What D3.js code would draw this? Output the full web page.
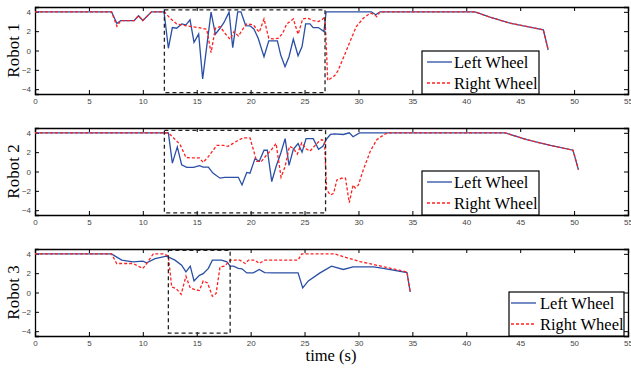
<!DOCTYPE html>
<html>
<head>
<meta charset="utf-8">
<script src="https://cdn.jsdelivr.net/npm/d3@7"></script>
<style>
body { margin: 0; background: #fff; }
svg { display: block; }
</style>
</head>
<body>
<div id="chart"></div>
<script>
// data: [time (s), wheel speed]
var timeTicks = [0, 5, 10, 15, 20, 25, 30, 35, 40, 45, 50, 55];
var speedTicks = [-4, -2, 0, 2, 4];
var robotNames = ['Robot 1', 'Robot 2', 'Robot 3'];
var seriesNames = ['Left Wheel', 'Right Wheel'];

var r1Left = [[0,4],[7.1,4],[7.6,2.8],[7.95,3.1],[9.2,3.1],[9.6,3.6],[10,3.1],[10.8,4],[11.97,4],[12.37,0.23],[12.74,2.37],[13.14,2.3],[13.6,2.75],[14.0,2.65],[14.38,3.17],[14.75,0.85],[15.18,1.71],[15.55,-2.93],[16.33,3.97],[16.73,1.68],[17.16,2.3],[17.53,2.9],[18.0,3.97],[18.34,0.3],[18.8,4],[19.1,4],[19.54,2.58],[19.94,2.55],[20.3,2.23],[20.7,1.27],[21.24,-0.64],[21.68,0.99],[22.48,0.99],[22.79,-0.47],[23.19,-1.68],[23.56,-0.64],[23.96,1.19],[24.4,-0.54],[24.77,0.4],[25.1,2.75],[25.5,2.75],[25.8,2.37],[26.28,2.37],[26.8,1.95],[27.0,4],[31.2,4],[31.6,3.7],[32.0,4],[40.8,4],[42.2,3.45],[44.06,2.82],[45.3,2.55],[47.15,2.13],[47.6,0.05]];
var r1Right = [[0,4],[7.1,4],[7.6,2.5],[7.95,3.1],[9.2,3.1],[9.6,3.6],[10,3.1],[10.8,4],[12.0,4],[12.52,3.34],[13.14,2.75],[14.07,2.55],[15.0,2.4],[15.93,2.2],[16.33,-0.23],[16.73,2.3],[17.16,2.47],[17.62,1.78],[18.09,1.16],[18.46,1.95],[18.86,1.5],[19.33,2.3],[19.64,2.75],[20.25,2.65],[20.8,1.89],[21.24,3.27],[21.68,1.27],[22.1,1.2],[22.57,1.27],[22.97,1.78],[23.35,2.75],[23.96,3.27],[24.4,1.68],[24.83,3.27],[25.3,3.34],[25.8,3.1],[26.3,3.0],[26.6,3.17],[26.9,3.5],[27.15,-3.1],[27.8,-2.6],[28.1,-2.1],[28.9,0.05],[29.4,1.43],[29.8,2.47],[30.45,3.34],[31.1,3.86],[31.5,3.7],[31.7,3.5],[32.0,4],[40.8,4],[42.2,3.45],[44.06,2.82],[45.3,2.55],[47.15,2.13],[47.6,0.05]];

var r2Left = [[0,4],[12.37,4],[12.74,0.87],[13.2,2.55],[13.6,0.7],[14.07,0.42],[14.7,0.42],[15.25,0.6],[15.6,0.45],[16.08,0.45],[16.5,-0.17],[17.16,-0.69],[17.6,-0.6],[18.86,-0.6],[19.2,-1.39],[19.64,-0.1],[19.94,-0.17],[20.4,1.33],[20.8,1.05],[21.24,2.2],[21.55,2.2],[21.96,-1.04],[22.36,0.52],[22.8,1.92],[23.2,3.4],[23.56,0.63],[23.96,2.3],[24.4,2.9],[24.77,2.0],[25.14,3.4],[25.8,3.4],[26.3,2.3],[26.7,2.6],[27.0,3.3],[27.4,3.83],[27.8,3.9],[28.6,3.83],[29.15,4],[29.5,3.6],[30.1,4],[43.6,4],[45.6,3.3],[47.8,2.7],[49.9,2.2],[50.4,0.2]];
var r2Right = [[0,4],[12.37,4],[12.83,3.5],[13.45,2.8],[14.0,1.46],[14.5,1.4],[15.25,1.4],[15.6,0.94],[16.1,1.57],[16.85,2.7],[17.5,2.7],[17.9,2.6],[18.7,3.13],[19.3,3.48],[19.94,3.48],[20.56,1.04],[21.0,1.04],[21.5,1.74],[21.96,2.3],[22.36,2.9],[22.82,-0.59],[23.2,0.52],[23.6,2.6],[23.96,2.4],[24.33,1.8],[24.74,2.96],[25.14,2.35],[25.5,2.1],[25.9,2.6],[26.3,3.07],[26.6,3.3],[26.85,3.1],[27.05,-1.9],[27.4,-2.43],[27.7,-2.25],[28.0,-0.87],[28.45,-0.7],[28.8,-0.7],[29.15,-3.23],[29.5,-1.39],[29.7,-1.7],[30.0,-1.39],[30.45,0.18],[31.1,2.1],[31.7,3.3],[32.5,3.9],[32.8,4],[43.6,4],[45.6,3.3],[47.8,2.7],[49.9,2.2],[50.4,0.2]];

var r3Left = [[0,4],[7.1,4],[8.04,3.35],[9.1,3.17],[10.0,3.24],[10.36,3.07],[11.13,3.5],[12.2,3.76],[12.98,3.35],[13.6,2.83],[14.0,2.13],[14.4,2.72],[14.75,1.2],[15.25,1.78],[15.6,1.95],[16.08,2.5],[16.45,3.35],[17.3,3.35],[17.8,3.17],[18.1,2.72],[18.4,2.72],[18.86,2.5],[19.2,2.45],[19.64,2.03],[20.25,2.03],[20.8,2.38],[21.3,2.06],[22.1,2.03],[24.4,2.03],[24.83,0.47],[25.35,1.2],[26.4,2.0],[27.5,2.72],[28.6,2.38],[29.5,2.65],[31.4,2.65],[32.3,2.5],[34.5,2.07],[34.8,0.05]];
var r3Right = [[0,4],[7.1,4],[7.57,3.0],[9.1,3.0],[10.0,2.48],[10.36,3.0],[10.97,4],[11.9,4],[12.37,3.76],[12.68,0.57],[13.1,0.4],[13.55,-0.19],[14.0,1.68],[14.4,0.47],[14.85,0.3],[15.25,0.2],[15.6,1.2],[16.0,0.99],[16.45,-0.39],[16.8,-0.1],[17.16,2.65],[17.6,2.72],[18.1,3.35],[19.0,3.35],[19.5,3.0],[19.8,3.35],[20.4,3.35],[20.8,3.0],[21.3,3.35],[24.4,3.35],[24.74,4],[27.8,4],[28.6,3.7],[30.15,3.2],[34.5,2.13],[34.8,0.05]];

// dashed boxes around the manoeuvre: [t0, t1, v0, v1]
var r1Box = [12.0, 26.9, -4.36, 4.2];
var r2Box = [12.0, 26.95, -4.28, 4.25];
var r3Box = [12.37, 18.1, -4.2, 4.35];

var width = 631;
var height = 369;

var colors = ['#2a4fa5', '#ff2020'];

var panels = [
    {name: robotNames[0], left: r1Left, right: r1Right, box: r1Box, top: 7, bottom: 94,
        legend: {x: 422, y: 51, w: 117, h: 43, lineX: 427, textX: 454}},
    {name: robotNames[1], left: r2Left, right: r2Right, box: r2Box, top: 128, bottom: 215,
        legend: {x: 422, y: 171, w: 117, h: 44, lineX: 427, textX: 454}},
    {name: robotNames[2], left: r3Left, right: r3Right, box: r3Box, top: 249, bottom: 336,
        legend: {x: 509, y: 292, w: 115, h: 44, lineX: 511, textX: 540}}
];

var svg = d3.select('#chart')
  .append('svg')
    .attr('width', width)
    .attr('height', height);

var x = d3.scaleLinear().domain([0, 55]).range([35, 628]);

panels.forEach(function(p, i) {

    var y = d3.scaleLinear().domain([-4.5, 4.5]).range([p.bottom, p.top]);
    var g = svg.append('g');

    g.append('clipPath').attr('id', 'clip' + i)
      .append('rect')
        .attr('x', x(0)).attr('y', p.top)
        .attr('width', x(55) - x(0)).attr('height', p.bottom - p.top);

    // axes with inward ticks
    var bottomAxis = d3.axisBottom(x).tickValues(timeTicks).tickSize(-4).tickPadding(4).tickFormat(d3.format('d'));
    var topAxis = d3.axisTop(x).tickValues(timeTicks).tickSize(-4).tickFormat('');
    var leftAxis = d3.axisLeft(y).tickValues(speedTicks).tickSize(-4).tickPadding(4).tickFormat(d3.format('d'));
    var rightAxis = d3.axisRight(y).tickValues(speedTicks).tickSize(-4).tickFormat('');

    g.append('g').attr('class', 'ax').attr('transform', 'translate(0,' + p.bottom + ')').call(bottomAxis);
    g.append('g').attr('class', 'ax').attr('transform', 'translate(0,' + p.top + ')').call(topAxis);
    g.append('g').attr('class', 'ax').attr('transform', 'translate(' + x(0) + ',0)').call(leftAxis);
    g.append('g').attr('class', 'ax').attr('transform', 'translate(' + x(55) + ',0)').call(rightAxis);

    g.selectAll('.ax path').attr('stroke', '#000').attr('stroke-width', 1.3);
    g.selectAll('.ax line').attr('stroke', '#000').attr('stroke-width', 1);
    g.selectAll('.ax text')
        .attr('font-family', 'Liberation Sans, Arial, sans-serif')
        .attr('font-size', 8)
        .attr('fill', '#444');

    var plot = g.append('g').attr('clip-path', 'url(#clip' + i + ')');

    var line = d3.line()
        .x(function(d) { return x(d[0]); })
        .y(function(d) { return y(d[1]); });

    plot.append('path')
        .datum(p.left)
        .attr('d', line)
        .attr('fill', 'none')
        .attr('stroke', colors[0])
        .attr('stroke-width', 1.3);

    plot.append('path')
        .datum(p.right)
        .attr('d', line)
        .attr('fill', 'none')
        .attr('stroke', colors[1])
        .attr('stroke-width', 1.3)
        .attr('stroke-dasharray', '3,2');

    // dashed highlight box
    g.append('rect')
        .attr('x', x(p.box[0]))
        .attr('y', y(p.box[3]))
        .attr('width', x(p.box[1]) - x(p.box[0]))
        .attr('height', y(p.box[2]) - y(p.box[3]))
        .attr('fill', 'none')
        .attr('stroke', '#222')
        .attr('stroke-width', 1.3)
        .attr('stroke-dasharray', '4,3');

    // legend
    var L = p.legend;
    var lg = g.append('g');
    lg.append('rect')
        .attr('x', L.x).attr('y', L.y)
        .attr('width', L.w).attr('height', L.h)
        .attr('fill', '#fff')
        .attr('stroke', '#000')
        .attr('stroke-width', 1.2);

    seriesNames.forEach(function(name, k) {
        var ly = L.y + 11 + k * 21;
        lg.append('line')
            .attr('x1', L.lineX).attr('x2', L.lineX + 25)
            .attr('y1', ly).attr('y2', ly)
            .attr('stroke', colors[k])
            .attr('stroke-width', 1.3)
            .attr('stroke-dasharray', k == 1 ? '3,2' : null);
        lg.append('text')
            .attr('x', L.textX)
            .attr('y', ly + 5.5)
            .attr('font-family', 'Liberation Serif, Times New Roman, serif')
            .attr('font-size', 16.5)
            .attr('fill', '#000')
            .text(name);
    });

    // y label
    g.append('text')
        .attr('transform', 'translate(19,' + ((p.top + p.bottom) / 2) + ') rotate(-90)')
        .attr('text-anchor', 'middle')
        .attr('font-family', 'Liberation Serif, Times New Roman, serif')
        .attr('font-size', 17)
        .attr('fill', '#000')
        .text(p.name);
});

svg.append('text')
    .attr('x', 331)
    .attr('y', 361)
    .attr('text-anchor', 'middle')
    .attr('font-family', 'Liberation Serif, Times New Roman, serif')
    .attr('font-size', 16.5)
    .attr('fill', '#000')
    .text('time (s)');
</script>
</body>
</html>
